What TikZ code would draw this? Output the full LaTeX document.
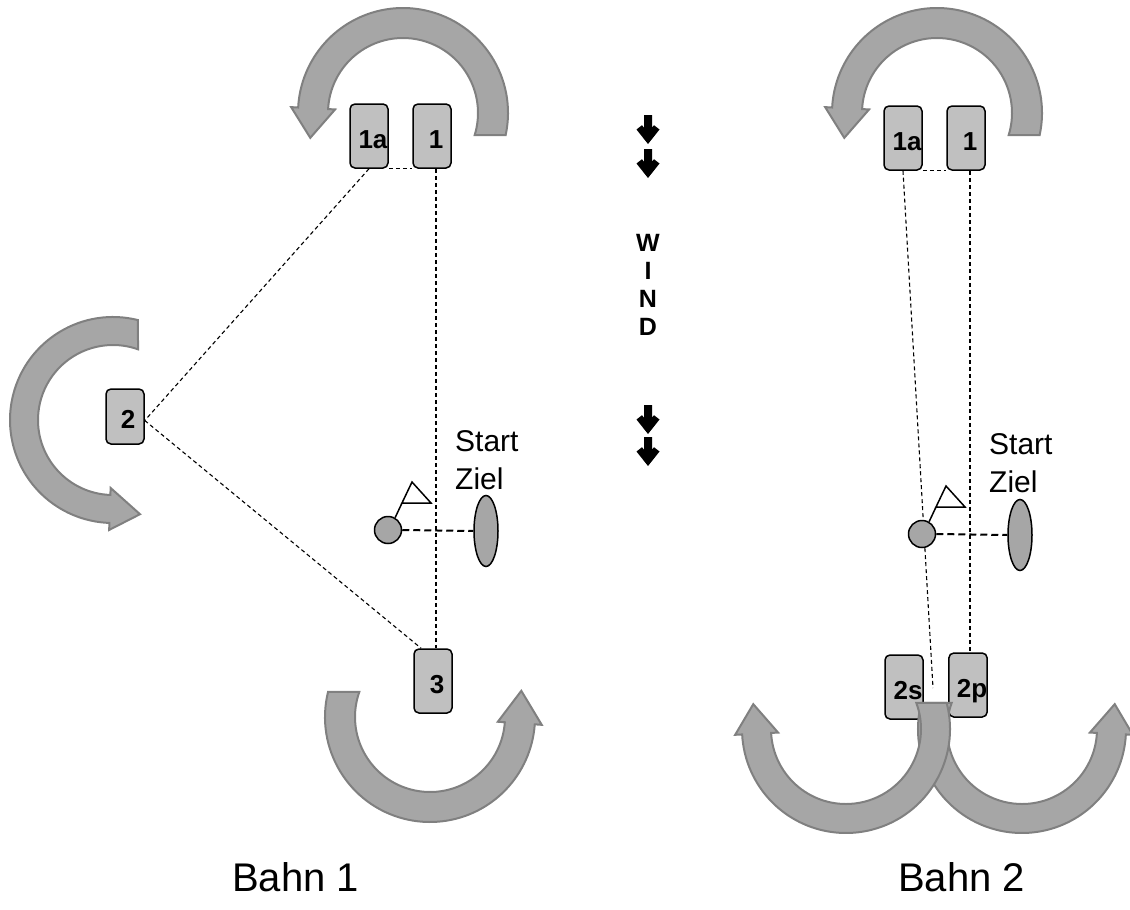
\documentclass[tikz,border=0pt]{standalone}
\usepackage{fontspec}
\setmainfont{Liberation Sans}
\usetikzlibrary{shapes.geometric}
\definecolor{arrowfill}{RGB}{166,166,166}
\definecolor{arrowline}{RGB}{128,128,128}
\definecolor{buoyfill}{RGB}{192,192,192}
\definecolor{markfill}{RGB}{166,166,166}

% curved rounding arrow: centre x, centre y, inner r, outer r,
% outer tail angle, inner tail angle, head base angle, tip angle, tip radius
\newcommand\turnarrow[9]{%
  \begin{scope}[shift={(#1,#2)}]
    \pgfmathsetmacro\wingout{#4+7}
    \pgfmathsetmacro\wingin{#3-7}
    \filldraw[turn] (#5:#4) arc[start angle=#5, end angle=#7, radius=#4]
      -- (#7:\wingout) -- (#8:#9) -- (#7:\wingin) -- (#7:#3)
      arc[start angle=#7, end angle=#6, radius=#3] -- cycle;
  \end{scope}}

\begin{document}
\begin{tikzpicture}[x=1pt, y=-1pt,
  buoy/.style={draw, line width=1.5pt, fill=buoyfill, rounded corners=5pt,
    minimum width=38pt, minimum height=64pt, inner sep=0pt,
    text height=24pt, text depth=0pt,
    font=\fontsize{26}{26}\selectfont\bfseries},
  turn/.style={fill=arrowfill, draw=arrowline, line width=2pt, line join=miter},
  course/.style={dashed, line width=1.1pt, dash pattern=on 4pt off 3pt},
  startline/.style={line width=2pt, dash pattern=on 7pt off 4pt},
  startbuoy/.style={draw, circle, fill=markfill, line width=1.5pt,
    minimum size=27pt, inner sep=0pt},
  startboat/.style={draw, ellipse, fill=markfill, line width=1.5pt,
    minimum width=24pt, minimum height=71pt, inner sep=0pt},
  flag/.style={line width=1.5pt, line join=miter},
  label/.style={font=\fontsize{30}{30}\selectfont, inner sep=0pt},
  title/.style={font=\fontsize{40}{40}\selectfont, inner sep=0pt},
  windarrow/.pic={\fill (-4,0) -- (4,0) -- (4,12.7) -- (6,10.2) -- (11.5,14.5)
      -- (0,29) -- (-11.5,14.5) -- (-6,10.2) -- (-4,12.7) -- cycle;}
]
\useasboundingbox (0,0) rectangle (1130,910);

% ---------- Bahn 1 ----------
\node[buoy] (c1a) at (369,136) {\hspace*{8pt}1a};
\node[buoy] (c1)  at (432,136) {\hspace*{8pt}1};
\node[buoy, minimum height=55pt] (c2) at (125,416.5) {\hspace*{6pt}2};
\node[buoy] (c3)  at (433,681) {\hspace*{8pt}3};

\draw[course] (c1a.south) -- ([yshift=-4pt]c2.east);
\draw[course] ([yshift=-4pt]c2.east) -- (c3.110);
\draw[course] (c1a.south east) -- (c1.south west);
\draw[course] ([xshift=4pt]c1.south) -- ([xshift=3pt]c3.north);

\node[startbuoy] (p1) at (388,530) {};
\node[startboat] (e1) at (486,531) {};
\draw[startline] (p1.east) -- (e1.west);
\coordinate (f1a) at (402,503);
\coordinate (f1b) at (412,482);
\coordinate (f1c) at (431,503);
\draw[flag] (p1.60) -- (f1a);
\draw[flag] (f1a) -- (f1b) -- (f1c) -- cycle;
\node[label, anchor=base west] (s1) at (455,451) {Start};
\node[label, anchor=base west] (z1) at (455,489) {Ziel};

\turnarrow{403}{113}{75}{105}{12.1}{17.1}{-177}{-195}{96}
\turnarrow{113}{420}{75}{103}{-76}{-70.5}{-268}{-286}{98}
\turnarrow{430}{717}{75}{105}{193.8}{199.5}{4}{-16}{95}

\node[title, anchor=base west] (t1) at (232,891) {Bahn 1};

% ---------- Wind ----------
\pic (w1) at (648,115) {windarrow};
\pic (w2) at (648,149) {windarrow};
\node[font=\fontsize{25}{28}\selectfont\bfseries, align=center, inner sep=0pt]
  (wind) at (648,285) {W\\I\\N\\D};
\pic (w3) at (648,405) {windarrow};
\pic (w4) at (648,437) {windarrow};

% ---------- Bahn 2 ----------
\node[buoy] (d1a) at (903,138) {\hspace*{8pt}1a};
\node[buoy] (d1)  at (966,138) {\hspace*{8pt}1};
\node[buoy] (d2s) at (904,687) {\hspace*{8pt}2s};
\node[buoy] (d2p) at (968,685) {\hspace*{8pt}2p};

\coordinate (gate) at (933,688);
\draw[course] (d1a.south) -- (gate);
\draw[course] (d1a.south east) -- (d1.south west);
\draw[course] ([xshift=4pt]d1.south) -- ([xshift=2pt]d2p.north);

\node[startbuoy] (p2) at (922,534) {};
\node[startboat] (e2) at (1020,535) {};
\draw[startline] (p2.east) -- (e2.west);
\coordinate (f2a) at (936,507);
\coordinate (f2b) at (946,486);
\coordinate (f2c) at (965,507);
\draw[flag] (p2.60) -- (f2a);
\draw[flag] (f2a) -- (f2b) -- (f2c) -- cycle;
\node[label, anchor=base west] (s2) at (989,454) {Start};
\node[label, anchor=base west] (z2) at (989,492) {Ziel};

\turnarrow{937}{113}{75}{105}{12.1}{17.1}{-177}{-195}{96}
\turnarrow{1022}{729}{75}{104}{194.5}{200.3}{3}{-15}{96}
\turnarrow{846}{729}{75}{104}{-14.5}{-20.3}{177}{195}{96}

\node[title, anchor=base west] (t2) at (898,891) {Bahn 2};
\end{tikzpicture}
\end{document}
